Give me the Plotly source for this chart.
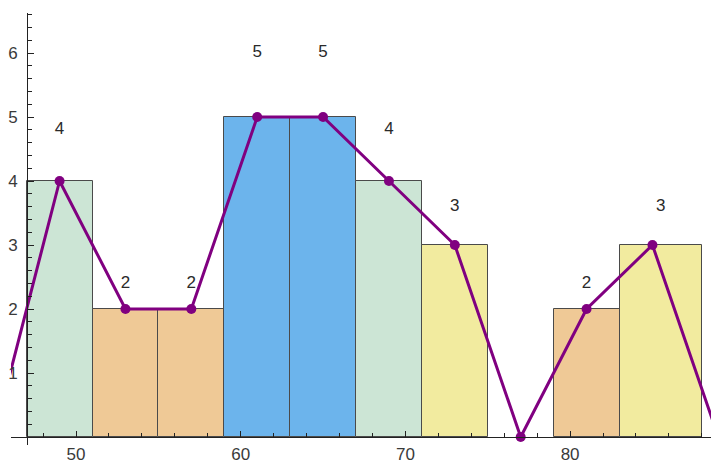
import plotly.graph_objects as go

# Histogram bins (edges) and their counts
bin_edges = [47, 51, 55, 59, 63, 67, 71, 75, 79, 83, 88]
counts = [4, 2, 2, 5, 5, 4, 3, 0, 2, 3]

# Frequency polygon vertices (class midpoints, padded with zero ends)
poly_x = [45, 49, 53, 57, 61, 65, 69, 73, 77, 81, 85, 89]
poly_y = [0, 4, 2, 2, 5, 5, 4, 3, 0, 2, 3, 0]

# Axis ticks
x_ticks = [50, 60, 70, 80]
y_ticks = [1, 2, 3, 4, 5, 6]

# Fill colour depends on the bar height
fill_by_count = {2: "#efc996", 3: "#f2eb9f", 4: "#cce5d5", 5: "#6cb4ec"}

centers, widths, heights, fills = [], [], [], []
for lo, hi, c in zip(bin_edges[:-1], bin_edges[1:], counts):
    if c > 0:
        centers.append((lo + hi) / 2)
        widths.append(hi - lo)
        heights.append(c)
        fills.append(fill_by_count[c])

fig = go.Figure()

fig.add_trace(go.Bar(
    x=centers, y=heights, width=widths,
    marker=dict(color=fills, line=dict(color="#4a4a4a", width=1)),
    hoverinfo="skip",
))

fig.add_trace(go.Scatter(
    x=poly_x, y=poly_y, mode="lines+markers",
    line=dict(color="#800080", width=3),
    marker=dict(color="#800080", size=10),
))

# Count labels above each bar
fig.add_trace(go.Scatter(
    x=centers, y=[1.2 * h for h in heights],
    text=[str(h) for h in heights], mode="text",
    textposition="middle center",
    textfont=dict(family="Liberation Sans", size=17, color="#2a2a2a"),
))

tick_font = dict(family="Liberation Sans", size=17, color="#3a3a3a")

fig.update_layout(
    width=711, height=463,
    margin=dict(l=11, r=0, t=13, b=18),
    paper_bgcolor="white", plot_bgcolor="white",
    showlegend=False,
    bargap=0,
    xaxis=dict(
        range=[46.05, 88.555], anchor="free", position=0.0185,
        showline=True, linecolor="#222222", linewidth=1,
        tickmode="array", tickvals=x_ticks,
        ticks="inside", ticklen=6, tickcolor="#222222",
        minor=dict(dtick=2, tick0=0, ticks="inside", ticklen=4, tickcolor="#222222"),
        showgrid=False, zeroline=False, tickfont=tick_font,
        ticklabelstandoff=2,
    ),
    yaxis=dict(
        range=[-0.125, 6.625], anchor="free", position=0.0229,
        showline=True, linecolor="#222222", linewidth=1,
        tickmode="array", tickvals=y_ticks,
        ticks="inside", ticklen=6, tickcolor="#222222",
        minor=dict(dtick=0.2, tick0=0, ticks="inside", ticklen=4, tickcolor="#222222"),
        showgrid=False, zeroline=False, tickfont=tick_font,
        ticklabelstandoff=6,
    ),
)

fig.write_html("out.html")
